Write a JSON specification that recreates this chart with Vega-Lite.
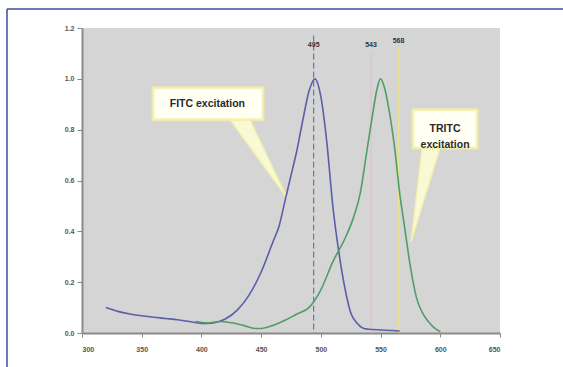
{
  "$schema": "https://vega.github.io/schema/vega-lite/v6.json",
  "width": 418,
  "height": 305,
  "autosize": "none",
  "padding": {"left": 82, "top": 28, "right": 63, "bottom": 34},
  "background": "#ffffff",
  "config": {
    "view": {"fill": "#d5d5d5", "stroke": null},
    "font": "Liberation Sans"
  },
  "datasets": {
    "curves": [
      {"dye": "FITC", "nm": 320, "val": 0.10},
      {"dye": "FITC", "nm": 330, "val": 0.085},
      {"dye": "FITC", "nm": 340, "val": 0.075},
      {"dye": "FITC", "nm": 350, "val": 0.068},
      {"dye": "FITC", "nm": 360, "val": 0.062},
      {"dye": "FITC", "nm": 370, "val": 0.057},
      {"dye": "FITC", "nm": 380, "val": 0.052},
      {"dye": "FITC", "nm": 390, "val": 0.045},
      {"dye": "FITC", "nm": 400, "val": 0.038},
      {"dye": "FITC", "nm": 410, "val": 0.04},
      {"dye": "FITC", "nm": 420, "val": 0.055},
      {"dye": "FITC", "nm": 430, "val": 0.09},
      {"dye": "FITC", "nm": 440, "val": 0.15},
      {"dye": "FITC", "nm": 450, "val": 0.24},
      {"dye": "FITC", "nm": 460, "val": 0.36},
      {"dye": "FITC", "nm": 465, "val": 0.42},
      {"dye": "FITC", "nm": 470, "val": 0.52},
      {"dye": "FITC", "nm": 475, "val": 0.62},
      {"dye": "FITC", "nm": 480, "val": 0.72},
      {"dye": "FITC", "nm": 485, "val": 0.84},
      {"dye": "FITC", "nm": 490, "val": 0.95},
      {"dye": "FITC", "nm": 495, "val": 1.0},
      {"dye": "FITC", "nm": 500, "val": 0.93},
      {"dye": "FITC", "nm": 505, "val": 0.75},
      {"dye": "FITC", "nm": 510, "val": 0.50},
      {"dye": "FITC", "nm": 515, "val": 0.32},
      {"dye": "FITC", "nm": 520, "val": 0.18},
      {"dye": "FITC", "nm": 525, "val": 0.08},
      {"dye": "FITC", "nm": 530, "val": 0.04},
      {"dye": "FITC", "nm": 535, "val": 0.02},
      {"dye": "FITC", "nm": 540, "val": 0.015},
      {"dye": "FITC", "nm": 550, "val": 0.012},
      {"dye": "FITC", "nm": 560, "val": 0.01},
      {"dye": "FITC", "nm": 566, "val": 0.008},
      {"dye": "TRITC", "nm": 395, "val": 0.045},
      {"dye": "TRITC", "nm": 405, "val": 0.04},
      {"dye": "TRITC", "nm": 415, "val": 0.045},
      {"dye": "TRITC", "nm": 425, "val": 0.04},
      {"dye": "TRITC", "nm": 435, "val": 0.03},
      {"dye": "TRITC", "nm": 445, "val": 0.018},
      {"dye": "TRITC", "nm": 450, "val": 0.018},
      {"dye": "TRITC", "nm": 460, "val": 0.03},
      {"dye": "TRITC", "nm": 470, "val": 0.05},
      {"dye": "TRITC", "nm": 480, "val": 0.075},
      {"dye": "TRITC", "nm": 490, "val": 0.10},
      {"dye": "TRITC", "nm": 500, "val": 0.17},
      {"dye": "TRITC", "nm": 510, "val": 0.28},
      {"dye": "TRITC", "nm": 520, "val": 0.37},
      {"dye": "TRITC", "nm": 527, "val": 0.45},
      {"dye": "TRITC", "nm": 533, "val": 0.55},
      {"dye": "TRITC", "nm": 538, "val": 0.70},
      {"dye": "TRITC", "nm": 543, "val": 0.85},
      {"dye": "TRITC", "nm": 547, "val": 0.96},
      {"dye": "TRITC", "nm": 550, "val": 1.0},
      {"dye": "TRITC", "nm": 553, "val": 0.97},
      {"dye": "TRITC", "nm": 557, "val": 0.88},
      {"dye": "TRITC", "nm": 562, "val": 0.72},
      {"dye": "TRITC", "nm": 566, "val": 0.55},
      {"dye": "TRITC", "nm": 570, "val": 0.42},
      {"dye": "TRITC", "nm": 575, "val": 0.26},
      {"dye": "TRITC", "nm": 580, "val": 0.14},
      {"dye": "TRITC", "nm": 585, "val": 0.08},
      {"dye": "TRITC", "nm": 590, "val": 0.045},
      {"dye": "TRITC", "nm": 595, "val": 0.02},
      {"dye": "TRITC", "nm": 600, "val": 0.005}
    ],
    "lines": [
      {"kind": "FITC peak", "nm": 494, "top": 1.17, "label": "495", "ly": 1.135},
      {"kind": "543 line", "nm": 542, "top": 1.1, "label": "543", "ly": 1.135},
      {"kind": "568 line", "nm": 565, "top": 1.12, "label": "568", "ly": 1.148}
    ],
    "boxes": [
      {"name": "FITC", "x1": 359.5, "x2": 451.6, "y1": 0.839, "y2": 0.965, "tx": 405, "ty": 0.902, "text": "FITC excitation"},
      {"name": "TRITC", "x1": 577.2, "x2": 630.8, "y1": 0.728, "y2": 0.878, "tx": 604, "ty": 0.803, "text": "TRITC\nexcitation"}
    ],
    "pointers": [
      {"name": "FITC", "y": 0.839, "xa": 424, "xb": 440.7},
      {"name": "FITC", "y": 0.531, "xa": 471.7, "xb": 471.7},
      {"name": "TRITC", "y": 0.728, "xa": 584.8, "xb": 599.8},
      {"name": "TRITC", "y": 0.358, "xa": 575.5, "xb": 575.5}
    ]
  },
  "resolve": {"scale": {"color": "independent", "strokeDash": "independent"}},
  "layer": [
    {
      "data": {"name": "pointers"},
      "mark": {"type": "area", "orient": "horizontal", "fill": "#fbfbd6", "stroke": "#f4f2a8", "strokeWidth": 1.5, "opacity": 0.95},
      "encoding": {
        "detail": {"field": "name"},
        "y": {"field": "y", "type": "quantitative", "scale": {"domain": [0, 1.2]}},
        "x": {"field": "xa", "type": "quantitative", "scale": {"domain": [300, 650]}},
        "x2": {"field": "xb"}
      }
    },
    {
      "data": {"name": "boxes"},
      "mark": {"type": "rect", "fill": "#fffff4", "stroke": "#f3f0a6", "strokeWidth": 3, "strokeOpacity": 0.8},
      "encoding": {
        "x": {"field": "x1", "type": "quantitative"},
        "x2": {"field": "x2"},
        "y": {"field": "y1", "type": "quantitative"},
        "y2": {"field": "y2"}
      }
    },
    {
      "data": {"name": "boxes"},
      "mark": {"type": "text", "fontSize": 10.5, "fontWeight": "bold", "color": "#2a2a2a", "lineBreak": "\n", "lineHeight": 16, "align": "center", "baseline": "middle"},
      "encoding": {
        "x": {"field": "tx", "type": "quantitative"},
        "y": {"field": "ty", "type": "quantitative"},
        "text": {"field": "text"}
      }
    },
    {
      "data": {"name": "lines"},
      "mark": {"type": "rule"},
      "encoding": {
        "x": {"field": "nm", "type": "quantitative"},
        "y": {"field": "top", "type": "quantitative"},
        "y2": {"datum": 0},
        "color": {"field": "kind", "type": "nominal", "legend": null,
          "scale": {"domain": ["FITC peak", "543 line", "568 line"], "range": ["#5a5ea8", "#e6b9c2", "#f1ec86"]}},
        "strokeDash": {"field": "kind", "type": "nominal", "legend": null,
          "scale": {"domain": ["FITC peak", "543 line", "568 line"], "range": [[6, 3], [1, 0], [1, 0]]}}
      }
    },
    {
      "data": {"name": "curves"},
      "mark": {"type": "line", "strokeWidth": 1.6, "interpolate": "monotone"},
      "encoding": {
        "x": {"field": "nm", "type": "quantitative",
          "axis": {"values": [300, 350, 400, 450, 500, 550, 600, 650], "title": null, "grid": false,
            "domainColor": "#8a8a8a", "domainWidth": 2, "tickColor": "#8a8a8a", "tickSize": 4,
            "labelFontSize": 7, "labelColor": "#555555", "labelPadding": 8, "labelFontWeight": "bold"}},
        "y": {"field": "val", "type": "quantitative",
          "axis": {"values": [0, 0.2, 0.4, 0.6, 0.8, 1.0, 1.2], "format": ".1f", "title": null, "grid": false,
            "domainColor": "#8a8a8a", "domainWidth": 2, "tickColor": "#8a8a8a", "tickSize": 5,
            "labelFontSize": 7, "labelColor": "#555555", "labelPadding": 3, "labelFontWeight": "bold"}},
        "color": {"field": "dye", "type": "nominal", "legend": null,
          "scale": {"domain": ["FITC", "TRITC"], "range": ["#5b5ea8", "#4f9e68"]}}
      }
    },
    {
      "data": {"name": "lines"},
      "mark": {"type": "text", "fontSize": 7, "fontWeight": "bold", "color": "#333333", "baseline": "middle"},
      "encoding": {
        "x": {"field": "nm", "type": "quantitative"},
        "y": {"field": "ly", "type": "quantitative"},
        "text": {"field": "label"}
      }
    },
    {
      "data": {"values": [{"edge": "top"}]},
      "mark": {"type": "rule", "color": "#3c4ca0", "strokeWidth": 1.5},
      "encoding": {
        "x": {"datum": 237.2, "type": "quantitative"},
        "x2": {"datum": 702.8},
        "y": {"datum": 1.2748, "type": "quantitative"}
      }
    },
    {
      "data": {"values": [{"edge": "left"}]},
      "mark": {"type": "rule", "color": "#3c4ca0", "strokeWidth": 1.5},
      "encoding": {
        "x": {"datum": 237.2, "type": "quantitative"},
        "y": {"datum": -0.134, "type": "quantitative"},
        "y2": {"datum": 1.2748}
      }
    }
  ]
}
